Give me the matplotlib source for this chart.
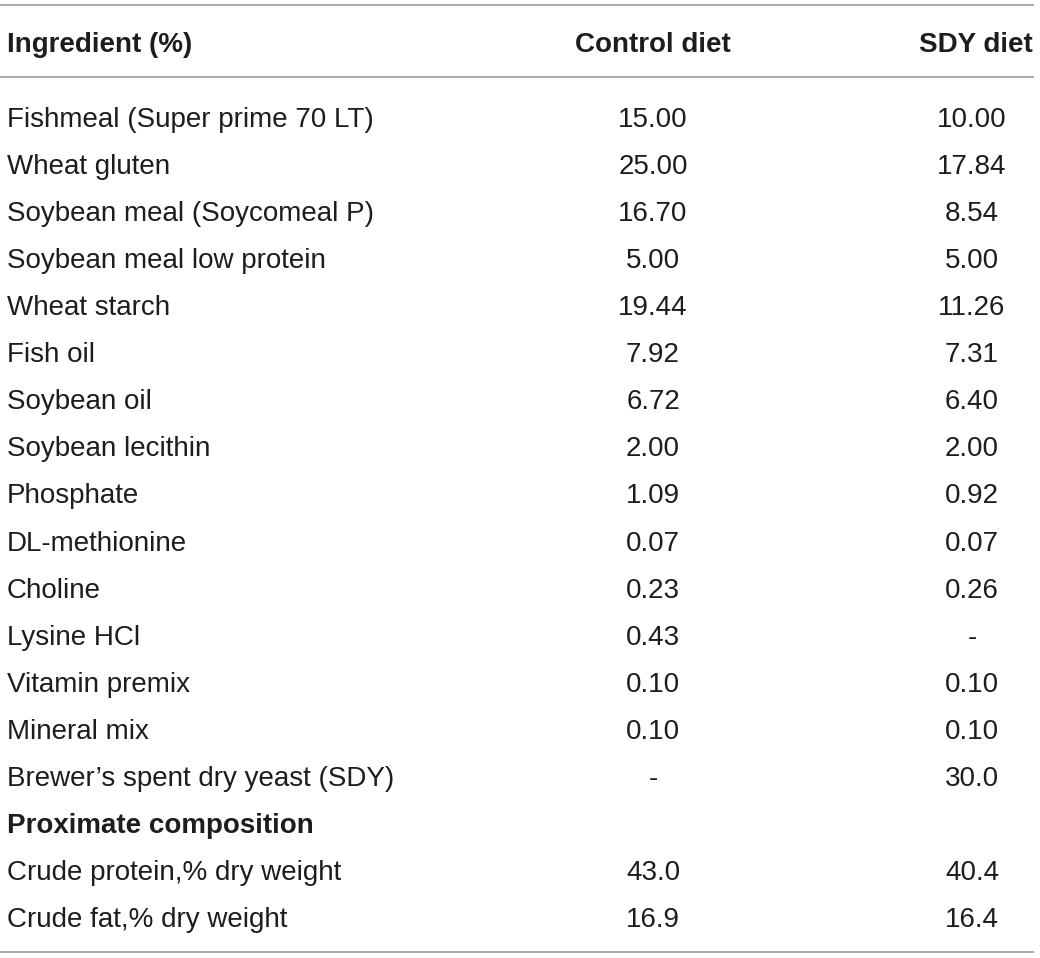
import matplotlib.pyplot as plt

# table content
header = ['Ingredient (%)', 'Control diet', 'SDY diet']
ingredients = ['Fishmeal (Super prime 70 LT)', 'Wheat gluten', 'Soybean meal (Soycomeal P)',
               'Soybean meal low protein', 'Wheat starch', 'Fish oil', 'Soybean oil',
               'Soybean lecithin', 'Phosphate', 'DL-methionine', 'Choline', 'Lysine HCl',
               'Vitamin premix', 'Mineral mix', 'Brewer\u2019s spent dry yeast (SDY)',
               'Proximate composition', 'Crude protein,% dry weight', 'Crude fat,% dry weight']
control = ['15.00', '25.00', '16.70', '5.00', '19.44', '7.92', '6.72', '2.00', '1.09', '0.07',
           '0.23', '0.43', '0.10', '0.10', '-', '', '43.0', '16.9']
sdy = ['10.00', '17.84', '8.54', '5.00', '11.26', '7.31', '6.40', '2.00', '0.92', '0.07',
       '0.26', '-', '0.10', '0.10', '30.0', '', '40.4', '16.4']
bold_rows = ['Proximate composition']

W, H = 1040, 958
fig = plt.figure(figsize=(W / 100, H / 100), dpi=100)
ax = fig.add_axes([0, 0, 1, 1])
ax.set_xlim(0, W)
ax.set_ylim(H, 0)
ax.axis('off')

plt.rcParams['font.family'] = ['Liberation Sans', 'DejaVu Sans']
fs = 20
txt = '#1e1c1d'
line_col = '#9b9b9b'

x_label = 7
x_ctrl = 653
x_sdy = 972
row0 = 127
step = 47.06

# rules
for y in [5, 77, 952]:
    ax.plot([0, 1034], [y, y], color=line_col, lw=1.2, solid_capstyle='butt')

# header
ax.text(x_label, 52, header[0], fontsize=fs, fontweight='bold', color=txt, va='baseline', ha='left')
ax.text(x_ctrl, 52, header[1], fontsize=fs, fontweight='bold', color=txt, va='baseline', ha='center')
ax.text(1033, 52, header[2], fontsize=fs, fontweight='bold', color=txt, va='baseline', ha='right')

for i, name in enumerate(ingredients):
    y = row0 + i * step
    w = 'bold' if name in bold_rows else 'normal'
    ax.text(x_label, y, name, fontsize=fs, fontweight=w, color=txt, va='baseline', ha='left')
    ax.text(x_ctrl, y, control[i], fontsize=fs, color=txt, va='baseline', ha='center')
    ax.text(x_sdy, y, sdy[i], fontsize=fs, color=txt, va='baseline', ha='center')

fig.savefig('out.png', dpi=100)
